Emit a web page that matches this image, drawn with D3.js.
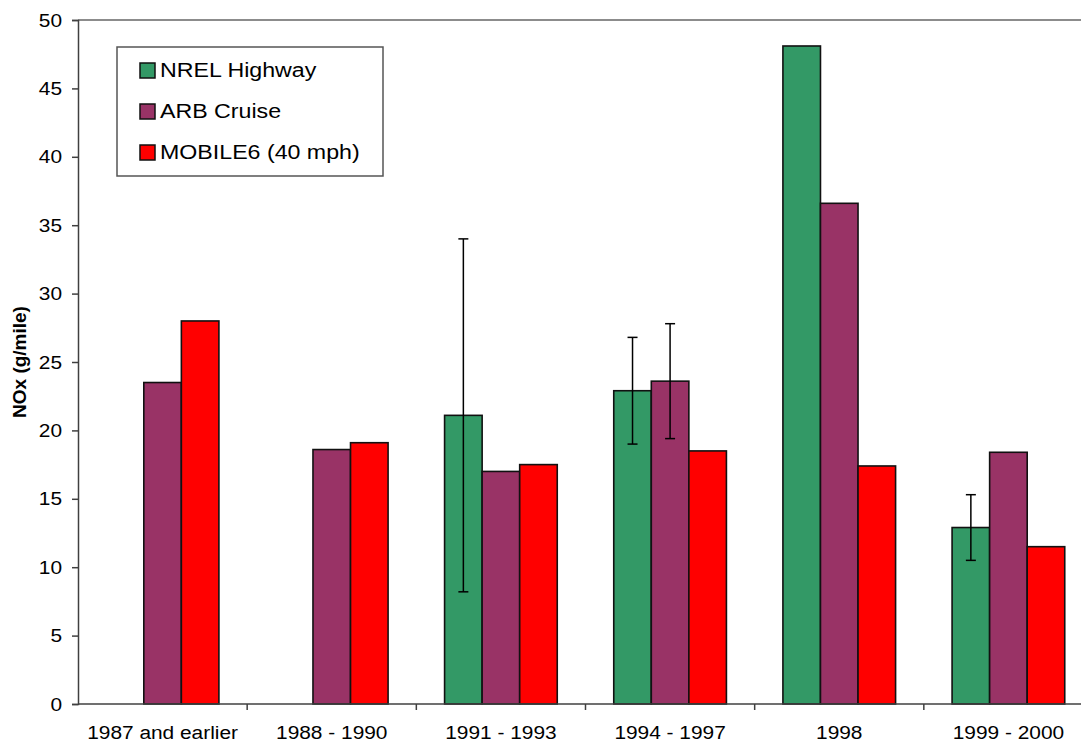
<!DOCTYPE html>
<html>
<head>
<meta charset="utf-8">
<script src="https://cdn.jsdelivr.net/npm/d3@7"></script>
<style>
  html, body { margin: 0; padding: 0; background: #fff; }
  svg { display: block; }
  text { font-family: "Liberation Sans", Arial, sans-serif; fill: #000; }
</style>
</head>
<body>
<svg id="chart" width="1081" height="742"></svg>
<script>
// Model-year groups
const categories = ["1987 and earlier", "1988 - 1990", "1991 - 1993", "1994 - 1997", "1998", "1999 - 2000"];
// Series names
const seriesNames = ["NREL Highway", "ARB Cruise", "MOBILE6 (40 mph)"];
const seriesColors = ["#339966", "#993366", "#ff0000"];
// NOx in g/mile (null = no measurement)
const nrelHighway = [null, null, 21.1, 22.9, 48.1, 12.9];
const arbCruise = [23.5, 18.6, 17.0, 23.6, 36.6, 18.4];
const mobile6 = [28.0, 19.1, 17.5, 18.5, 17.4, 11.5];
// Error bar ranges [low, high]
const nrelErr = [null, null, [8.2, 34.0], [19.0, 26.8], null, [10.5, 15.3]];
const arbErr = [null, null, null, [19.4, 27.8], null, null];
const yTicks = [0, 5, 10, 15, 20, 25, 30, 35, 40, 45, 50];

const seriesValues = [nrelHighway, arbCruise, mobile6];
const seriesErrors = [nrelErr, arbErr, null];

const svg = d3.select("#chart");
const plotLeft = 78, plotTop = 20, plotBottom = 704, plotRight = 1093;
const sx = 1.16; // horizontal text stretch

const x0 = d3.scaleBand().domain(categories).range([plotLeft, plotRight]).paddingInner(0).paddingOuter(0);
const groupW = x0.bandwidth() * 0.666;
const x1 = d3.scaleBand().domain(d3.range(3)).range([0, groupW]).padding(0);
const y = d3.scaleLinear().domain([0, 50]).range([plotBottom, plotTop]);

function stretchedText(g, x, yy, str, size, anchor, weight) {
  return g.append("text")
    .attr("transform", `translate(${x},${yy}) scale(${sx},1)`)
    .attr("text-anchor", anchor)
    .style("font-size", size + "px")
    .style("font-weight", weight || "normal")
    .text(str);
}

// Plot frame top edge
svg.append("line")
  .attr("x1", plotLeft).attr("x2", plotRight).attr("y1", plotTop).attr("y2", plotTop)
  .attr("stroke", "#8c8c8c").attr("stroke-width", 2);

// Bars
categories.forEach((c, i) => {
  const gx = x0(c) + (x0.bandwidth() - groupW) / 2;
  seriesValues.forEach((vals, s) => {
    const v = vals[i];
    if (v == null) return;
    svg.append("rect")
      .attr("x", gx + x1(s))
      .attr("y", y(v))
      .attr("width", x1.bandwidth())
      .attr("height", y(0) - y(v))
      .attr("fill", seriesColors[s])
      .attr("stroke", "#111")
      .attr("stroke-width", 1.6);
  });
});

// Error bars
categories.forEach((c, i) => {
  const gx = x0(c) + (x0.bandwidth() - groupW) / 2;
  seriesErrors.forEach((errs, s) => {
    if (!errs || !errs[i]) return;
    const cx = gx + x1(s) + x1.bandwidth() / 2;
    const [lo, hi] = errs[i];
    const g = svg.append("g").attr("stroke", "#000").attr("stroke-width", 1.5);
    g.append("line").attr("x1", cx).attr("x2", cx).attr("y1", y(lo)).attr("y2", y(hi));
    g.append("line").attr("x1", cx - 5).attr("x2", cx + 5).attr("y1", y(lo)).attr("y2", y(lo));
    g.append("line").attr("x1", cx - 5).attr("x2", cx + 5).attr("y1", y(hi)).attr("y2", y(hi));
  });
});

// Y axis
const yAxis = svg.append("g").attr("transform", `translate(${plotLeft},0)`)
  .call(d3.axisLeft(y).tickValues(yTicks).tickSize(6).tickFormat(""));
yAxis.selectAll("line").attr("stroke", "#404040").attr("stroke-width", 1.5);
yAxis.select(".domain").attr("stroke", "#404040").attr("stroke-width", 1.5);
yTicks.forEach(t => stretchedText(svg, 62, y(t) + 6.5, d3.format("d")(t), 18, "end"));

// X axis
svg.append("line")
  .attr("x1", plotLeft).attr("x2", plotRight).attr("y1", plotBottom).attr("y2", plotBottom)
  .attr("stroke", "#404040").attr("stroke-width", 1.5);
categories.forEach((c, i) => {
  if (i > 0) {
    svg.append("line")
      .attr("x1", x0(c)).attr("x2", x0(c)).attr("y1", plotBottom).attr("y2", plotBottom + 6)
      .attr("stroke", "#404040").attr("stroke-width", 1.5);
  }
  stretchedText(svg, x0(c) + x0.bandwidth() / 2, 739, c, 18, "middle");
});

// Y axis title
svg.append("text")
  .attr("transform", `translate(26,362) rotate(-90)`)
  .attr("text-anchor", "middle")
  .style("font-size", "19px")
  .style("font-weight", "bold")
  .text("NOx (g/mile)");

// Legend
const legend = svg.append("g");
legend.append("rect")
  .attr("x", 117).attr("y", 47).attr("width", 266).attr("height", 129)
  .attr("fill", "#fff").attr("stroke", "#555").attr("stroke-width", 1.5);
seriesNames.forEach((name, s) => {
  const ry = 63 + s * 41;
  legend.append("rect")
    .attr("x", 140).attr("y", ry).attr("width", 15).attr("height", 15)
    .attr("fill", seriesColors[s]).attr("stroke", "#111").attr("stroke-width", 1.5);
  stretchedText(legend, 160, ry + 14, name, 20, "start");
});
</script>
</body>
</html>
